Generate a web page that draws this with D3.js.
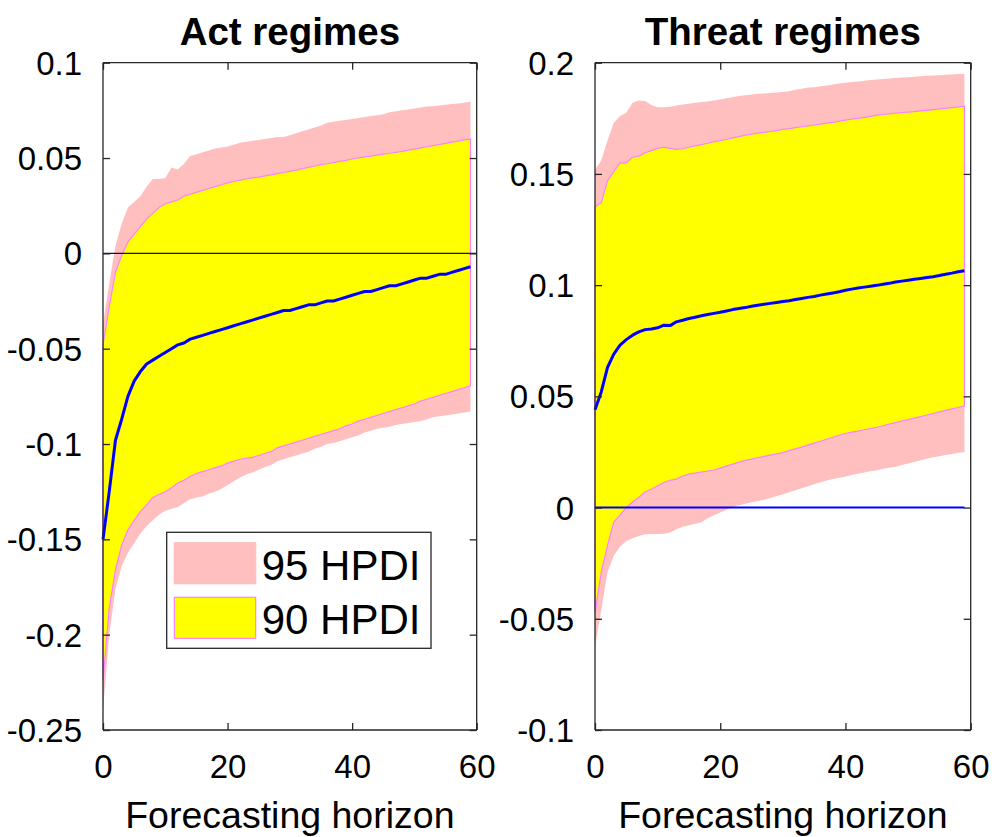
<!DOCTYPE html>
<html>
<head>
<meta charset="utf-8">
<script src="https://cdn.jsdelivr.net/npm/d3@7"></script>
<style>
  body { margin: 0; background: #fff; }
  text { font-family: "Liberation Sans", Arial, Helvetica, sans-serif; fill: #000; }
</style>
</head>
<body>
<div id="chart"></div>
<script>
// forecasting horizon (steps 0..59)
var horizon = d3.range(60);

// ---- Act regimes ----
var actMean = [-0.150,-0.125,-0.098,-0.087,-0.075,-0.067,-0.062,-0.058,-0.056,-0.054,
  -0.052,-0.050,-0.048,-0.047,-0.045,-0.044,-0.043,-0.042,-0.041,-0.040,
  -0.039,-0.038,-0.037,-0.036,-0.035,-0.034,-0.033,-0.032,-0.031,-0.030,
  -0.030,-0.029,-0.028,-0.027,-0.027,-0.026,-0.025,-0.025,-0.024,-0.023,
  -0.022,-0.021,-0.020,-0.020,-0.019,-0.018,-0.017,-0.017,-0.016,-0.015,
  -0.014,-0.013,-0.013,-0.012,-0.011,-0.011,-0.010,-0.009,-0.008,-0.007];
var actHi95 = [-0.037,-0.016,0.004,0.0155,0.024,0.027,0.030,0.035,0.039,0.039,
  0.0395,0.045,0.044,0.047,0.051,0.052,0.053,0.054,0.055,0.0555,
  0.056,0.057,0.058,0.0585,0.059,0.0595,0.060,0.0605,0.061,0.061,
  0.062,0.063,0.064,0.065,0.066,0.067,0.0685,0.069,0.0695,0.070,
  0.0705,0.071,0.0715,0.072,0.0725,0.073,0.074,0.0745,0.075,0.0755,
  0.076,0.0765,0.077,0.0772,0.0775,0.078,0.0783,0.0786,0.079,0.0795];
var actHi90 = [-0.048,-0.028,-0.010,-0.001,0.006,0.010,0.014,0.018,0.021,0.024,
  0.026,0.027,0.028,0.030,0.031,0.032,0.033,0.034,0.035,0.036,
  0.037,0.0377,0.0384,0.039,0.0396,0.040,0.0406,0.0412,0.0418,0.0424,
  0.043,0.0437,0.0444,0.0451,0.0458,0.0465,0.047,0.0476,0.0482,0.0488,
  0.0495,0.0501,0.0506,0.051,0.0515,0.052,0.0525,0.053,0.0535,0.0541,
  0.0547,0.0553,0.0559,0.0565,0.0571,0.0577,0.0583,0.0589,0.0595,0.060];
var actLo90 = [-0.224,-0.186,-0.166,-0.153,-0.145,-0.140,-0.1355,-0.132,-0.128,-0.1265,
  -0.125,-0.123,-0.1205,-0.119,-0.117,-0.1155,-0.1145,-0.1135,-0.1125,-0.1115,
  -0.110,-0.109,-0.108,-0.1075,-0.107,-0.106,-0.105,-0.104,-0.102,-0.101,
  -0.100,-0.099,-0.098,-0.097,-0.096,-0.095,-0.094,-0.093,-0.092,-0.0905,
  -0.0895,-0.088,-0.087,-0.086,-0.085,-0.084,-0.083,-0.082,-0.081,-0.080,
  -0.079,-0.0775,-0.0765,-0.0755,-0.0745,-0.0735,-0.0725,-0.0715,-0.0705,-0.0695];
var actLo95 = [-0.240,-0.200,-0.176,-0.164,-0.157,-0.152,-0.147,-0.143,-0.140,-0.137,
  -0.135,-0.134,-0.133,-0.131,-0.129,-0.128,-0.1275,-0.126,-0.125,-0.1235,
  -0.1215,-0.1195,-0.1176,-0.116,-0.115,-0.1135,-0.112,-0.111,-0.109,-0.108,
  -0.107,-0.106,-0.105,-0.104,-0.1025,-0.1015,-0.100,-0.0995,-0.0985,-0.0975,
  -0.0965,-0.0955,-0.094,-0.093,-0.092,-0.0915,-0.091,-0.090,-0.0895,-0.089,
  -0.0885,-0.088,-0.087,-0.086,-0.0855,-0.085,-0.0845,-0.084,-0.0835,-0.083];

// ---- Threat regimes ----
var threatMean = [0.044,0.052,0.063,0.069,0.073,0.0755,0.0775,0.079,0.080,0.0803,
  0.0808,0.082,0.0818,0.0835,0.0842,0.085,0.0856,0.0862,0.0868,0.0873,
  0.0878,0.0884,0.089,0.0895,0.0899,0.0905,0.091,0.0914,0.0918,0.0922,
  0.0926,0.093,0.0935,0.094,0.0945,0.0949,0.0955,0.096,0.0965,0.097,
  0.0977,0.0982,0.0987,0.0991,0.0995,0.0999,0.1004,0.1008,0.1014,0.1018,
  0.1022,0.1026,0.103,0.1034,0.1038,0.1043,0.1049,0.1054,0.106,0.1065];
var threatHi95 = [0.152,0.156,0.165,0.173,0.176,0.1775,0.182,0.183,0.1828,0.181,
  0.180,0.180,0.1802,0.1808,0.1812,0.1815,0.182,0.1823,0.1826,0.183,
  0.1835,0.184,0.1845,0.185,0.1854,0.1857,0.186,0.1862,0.1864,0.1866,
  0.1868,0.1872,0.1878,0.1883,0.1888,0.189,0.1894,0.1898,0.1902,0.1906,
  0.191,0.1913,0.1916,0.1919,0.1922,0.1925,0.1927,0.1929,0.1931,0.1933,
  0.1935,0.1937,0.1939,0.1941,0.1943,0.1944,0.1946,0.1947,0.1949,0.195];
var threatHi90 = [0.1353,0.137,0.147,0.151,0.155,0.155,0.1575,0.158,0.1595,0.1605,
  0.1615,0.162,0.1615,0.161,0.1613,0.162,0.1626,0.1632,0.1638,0.1645,
  0.165,0.1656,0.1662,0.1668,0.1674,0.1679,0.1683,0.1687,0.1691,0.1695,
  0.170,0.1704,0.1708,0.1712,0.1716,0.172,0.1724,0.1728,0.1732,0.1737,
  0.1742,0.1746,0.175,0.1754,0.1759,0.1764,0.1767,0.177,0.1773,0.1776,
  0.1778,0.178,0.1783,0.1786,0.1789,0.1792,0.1795,0.1798,0.1801,0.1805];
var threatLo90 = [-0.047,-0.029,-0.017,-0.0065,-0.0034,0.0,0.0025,0.0045,0.007,0.0082,
  0.0098,0.0113,0.0122,0.0128,0.0142,0.015,0.0155,0.016,0.0164,0.0169,
  0.0177,0.0186,0.0195,0.0204,0.0212,0.0218,0.0224,0.023,0.0236,0.0241,
  0.0247,0.0256,0.0264,0.0272,0.0281,0.029,0.0298,0.0307,0.0316,0.0325,
  0.0333,0.0339,0.0344,0.035,0.0355,0.0361,0.0368,0.0375,0.0382,0.0389,
  0.0395,0.0402,0.0409,0.0416,0.0423,0.043,0.0437,0.0444,0.045,0.0457];
var threatLo95 = [-0.0626,-0.046,-0.029,-0.0215,-0.0175,-0.015,-0.0138,-0.0128,-0.012,-0.0119,
  -0.0119,-0.0118,-0.0112,-0.0098,-0.0086,-0.0079,-0.0073,-0.0066,-0.0048,-0.0034,
  -0.0022,-0.001,0.0003,0.001,0.0017,0.0024,0.003,0.0035,0.0043,0.0052,
  0.006,0.0069,0.0078,0.0087,0.0096,0.0105,0.0114,0.0122,0.0128,0.0134,
  0.014,0.0146,0.0152,0.0158,0.0163,0.0168,0.0174,0.0179,0.0184,0.0191,
  0.0198,0.0205,0.0213,0.022,0.0226,0.0231,0.0236,0.0241,0.0246,0.025];

// tick labels
var xTicks = [0, 20, 40, 60];
var actYTicks = [-0.25, -0.2, -0.15, -0.1, -0.05, 0, 0.05, 0.1];
var threatYTicks = [-0.1, -0.05, 0, 0.05, 0.1, 0.15, 0.2];
var legendLabels = ["95 HPDI", "90 HPDI"];

var pink = "#ffbfbf", yellow = "#ffff00", edge = "#ff80ff", blue = "#0000ff", frame = "#262626";

var svg = d3.select("#chart").append("svg")
  .attr("width", 992).attr("height", 837);

function drawPanel(p) {
  var x = d3.scaleLinear().domain([0, 60]).range([p.left, p.right]);
  var y = d3.scaleLinear().domain(p.yDomain).range([730, 62.7]);
  var g = svg.append("g");

  var band = function (lo, hi) {
    return d3.area()
      .x(function (d) { return x(d); })
      .y0(function (d) { return y(lo[d]); })
      .y1(function (d) { return y(hi[d]); });
  };

  // 95 band
  g.append("path").datum(horizon)
    .attr("fill", pink).attr("stroke", "none")
    .attr("d", band(p.lo95, p.hi95));

  // 90 band with edge
  g.append("path").datum(horizon)
    .attr("fill", yellow).attr("stroke", edge).attr("stroke-width", 1.2)
    .attr("d", band(p.lo90, p.hi90));

  // zero line
  g.append("line")
    .attr("x1", x(0)).attr("x2", x(p.zeroEnd))
    .attr("y1", y(0)).attr("y2", y(0))
    .attr("stroke", p.zeroColor).attr("stroke-width", p.zeroWidth);

  // median response
  g.append("path").datum(horizon)
    .attr("fill", "none").attr("stroke", blue).attr("stroke-width", 3)
    .attr("stroke-linejoin", "round")
    .attr("d", d3.line()
      .x(function (d) { return x(d); })
      .y(function (d) { return y(p.mean[d]); }));

  // axes, ticks inside (box on)
  var fmt = function (d) { return String(+d.toFixed(2)); };
  var yl = g.append("g").attr("transform", "translate(" + p.left + ",0)")
    .call(d3.axisLeft(y).tickValues(p.yTicks).tickSize(-7).tickPadding(21).tickFormat(fmt));
  var yr = g.append("g").attr("transform", "translate(" + p.right + ",0)")
    .call(d3.axisRight(y).tickValues(p.yTicks).tickSize(-7).tickFormat(""));
  var xb = g.append("g").attr("transform", "translate(0,730)")
    .call(d3.axisBottom(x).tickValues(xTicks).tickSize(-7).tickPadding(25).tickFormat(d3.format("d")));
  var xt = g.append("g").attr("transform", "translate(0,62.7)")
    .call(d3.axisTop(x).tickValues(xTicks).tickSize(-7).tickFormat(""));

  [yl, yr, xb, xt].forEach(function (a) {
    a.selectAll(".domain").attr("stroke", frame).attr("stroke-width", 1.3)
      .attr("d", a === yl || a === yr ? "M0,62.7V730" : "M" + p.left + ",0H" + p.right);
    a.selectAll(".tick line").attr("stroke", frame).attr("stroke-width", 1.3);
    a.selectAll(".tick text").attr("font-size", 33).attr("fill", "#000")
      .attr("font-family", "Liberation Sans, Arial, sans-serif");
  });
  yl.selectAll(".tick text").attr("dy", "0.35em");
  xb.selectAll(".tick text").attr("dy", "0.71em");

  // title
  g.append("text").attr("x", (p.left + p.right) / 2).attr("y", 45)
    .attr("text-anchor", "middle").attr("font-size", 38.5).attr("font-weight", "bold")
    .text(p.title);

  // x label
  g.append("text").attr("x", (p.left + p.right) / 2).attr("y", 828)
    .attr("text-anchor", "middle").attr("font-size", 37.5)
    .text("Forecasting horizon");
}

drawPanel({
  title: "Act regimes", left: 103, right: 476.7, yDomain: [-0.25, 0.1], yTicks: actYTicks,
  mean: actMean, hi95: actHi95, lo95: actLo95, hi90: actHi90, lo90: actLo90,
  zeroColor: "#101050", zeroWidth: 1.3, zeroEnd: 60
});
drawPanel({
  title: "Threat regimes", left: 595, right: 970.7, yDomain: [-0.1, 0.2], yTicks: threatYTicks,
  mean: threatMean, hi95: threatHi95, lo95: threatLo95, hi90: threatHi90, lo90: threatLo90,
  zeroColor: blue, zeroWidth: 2, zeroEnd: 59
});

// legend (in the Act regimes panel)
var leg = svg.append("g").attr("transform", "translate(166.7,532.3)");
leg.append("rect").attr("width", 264.3).attr("height", 116)
  .attr("fill", "#fff").attr("stroke", frame).attr("stroke-width", 1.3);
var legColors = [[pink, pink], [yellow, edge]];
legendLabels.forEach(function (lab, i) {
  var row = leg.append("g").attr("transform", "translate(0," + (10.4 + i * 54.6) + ")");
  row.append("rect").attr("x", 7.6).attr("width", 81.4).attr("height", 41)
    .attr("fill", legColors[i][0]).attr("stroke", legColors[i][1]).attr("stroke-width", 1.2);
  row.append("text").attr("x", 95).attr("y", 37).attr("font-size", 42).text(lab);
});
</script>
</body>
</html>
